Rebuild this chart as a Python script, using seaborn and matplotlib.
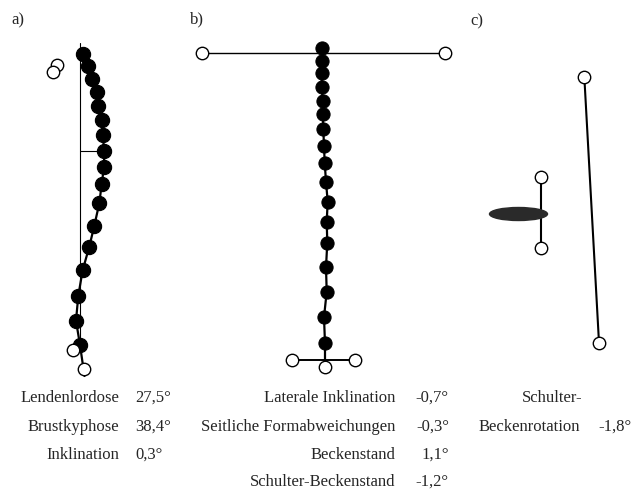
import matplotlib.pyplot as plt
import seaborn as sns
import numpy as np
from matplotlib.patches import Ellipse

sns.set_style('white')
plt.rcParams['font.family'] = ['Liberation Serif', 'DejaVu Serif']

# panel a: sagittal profile (x = lateral offset, y = height, image units)
a_x = [83.3, 88.3, 91.7, 96.7, 98.3, 101.7, 102.7, 104.3, 104.0, 101.7, 99.3, 94.3, 89.3, 82.7, 78.3, 76.0, 80.0]
a_y = [54.0, 66.0, 79.3, 92.3, 106.0, 120.0, 135.3, 150.7, 166.7, 184.0, 203.3, 225.7, 246.7, 270.0, 295.7, 320.7, 345.0]
a_open_x = [57.3, 52.8, 73.3, 84.0]
a_open_y = [65.0, 71.5, 350.0, 369.0]

# panel b: frontal profile
b_x = [321.7, 321.7, 321.7, 321.7, 322.7, 322.7, 323.3, 324.0, 324.7, 326.0, 327.7, 326.7, 327.3, 326.0, 326.7, 324.0, 325.0]
b_y = [48.3, 61.0, 73.3, 86.7, 100.7, 114.3, 129.3, 146.0, 162.7, 181.7, 201.7, 221.7, 242.7, 267.3, 291.7, 317.3, 343.3]
b_shoulder_x = [201.7, 445.0]
b_shoulder_y = [53.3, 53.3]
b_pelvis_x = [291.7, 355.0]
b_pelvis_y = [359.5, 359.5]

# panel c: transversal view
c_rot_x = [584.3, 599.0]
c_rot_y = [76.7, 342.7]
c_pel_x = [540.7, 540.7]
c_pel_y = [176.7, 247.7]

labels_a = ['Lendenlordose', 'Brustkyphose', 'Inklination']
values_a = ['27,5°', '38,4°', '0,3°']
labels_b = ['Laterale Inklination', 'Seitliche Formabweichungen', 'Beckenstand', 'Schulter-Beckenstand']
values_b = ['-0,7°', '-0,3°', '1,1°', '-1,2°']
labels_c = ['Schulter-', 'Beckenrotation']
values_c = ['', '-1,8°']

fig = plt.figure(figsize=(6.34, 4.92), dpi=100)
ax = fig.add_axes([0, 0, 1, 1])
ax.set_xlim(0, 634)
ax.set_ylim(492, 0)
ax.axis('off')

k = 'black'
dot = 105
ring = 80

# a)
ax.plot([80, 80], [43, 340], color=k, lw=0.8)
ax.plot([80, 104.3], [150.7, 150.7], color=k, lw=0.8)
sns.lineplot(x=a_x + [84.5], y=a_y + [376], sort=False, estimator=None, color=k, lw=1.6, ax=ax)
sns.scatterplot(x=a_x, y=a_y, s=dot, color=k, edgecolor=k, ax=ax, zorder=3)
sns.scatterplot(x=a_open_x, y=a_open_y, s=ring, facecolor='white', edgecolor=k, linewidth=1, ax=ax, zorder=4)

# b)
sns.lineplot(x=b_shoulder_x, y=b_shoulder_y, sort=False, estimator=None, color=k, lw=1.0, ax=ax)
sns.lineplot(x=b_pelvis_x, y=b_pelvis_y, sort=False, estimator=None, color=k, lw=1.4, ax=ax)
sns.lineplot(x=b_x + [325], y=b_y + [366], sort=False, estimator=None, color=k, lw=1.6, ax=ax)
sns.scatterplot(x=b_x, y=b_y, s=dot - 15, color=k, edgecolor=k, ax=ax, zorder=3)
sns.scatterplot(x=b_shoulder_x + b_pelvis_x + [325], y=b_shoulder_y + b_pelvis_y + [366.5], s=ring,
                facecolor='white', edgecolor=k, linewidth=1, ax=ax, zorder=4)

# c)
sns.lineplot(x=c_rot_x, y=c_rot_y, sort=False, estimator=None, color=k, lw=1.5, ax=ax)
sns.lineplot(x=c_pel_x, y=c_pel_y, sort=False, estimator=None, color=k, lw=1.5, ax=ax)
ax.add_patch(Ellipse((518.5, 214), 58, 13, facecolor='#2a2a2a', edgecolor='#2a2a2a', zorder=3))
sns.scatterplot(x=c_rot_x + c_pel_x, y=c_rot_y + c_pel_y, s=ring, facecolor='white',
                edgecolor=k, linewidth=1, ax=ax, zorder=4)

fs = 12
ax.text(11, 20, 'a)', fontsize=fs, va='center')
ax.text(190, 19, 'b)', fontsize=fs, va='center')
ax.text(470, 21, 'c)', fontsize=fs, va='center')

rows = [398, 427, 455, 482]
for i, (l, v) in enumerate(zip(labels_a, values_a)):
    ax.text(119, rows[i], l, fontsize=fs, ha='right', va='center')
    ax.text(135, rows[i], v, fontsize=fs, ha='left', va='center')
for i, (l, v) in enumerate(zip(labels_b, values_b)):
    ax.text(395, rows[i], l, fontsize=fs, ha='right', va='center')
    ax.text(449, rows[i], v, fontsize=fs, ha='right', va='center')
ax.text(552, rows[0], labels_c[0], fontsize=fs, ha='center', va='center')
ax.text(580, rows[1], labels_c[1], fontsize=fs, ha='right', va='center')
ax.text(632, rows[1], values_c[1], fontsize=fs, ha='right', va='center')

fig.savefig('out.png', dpi=100)
